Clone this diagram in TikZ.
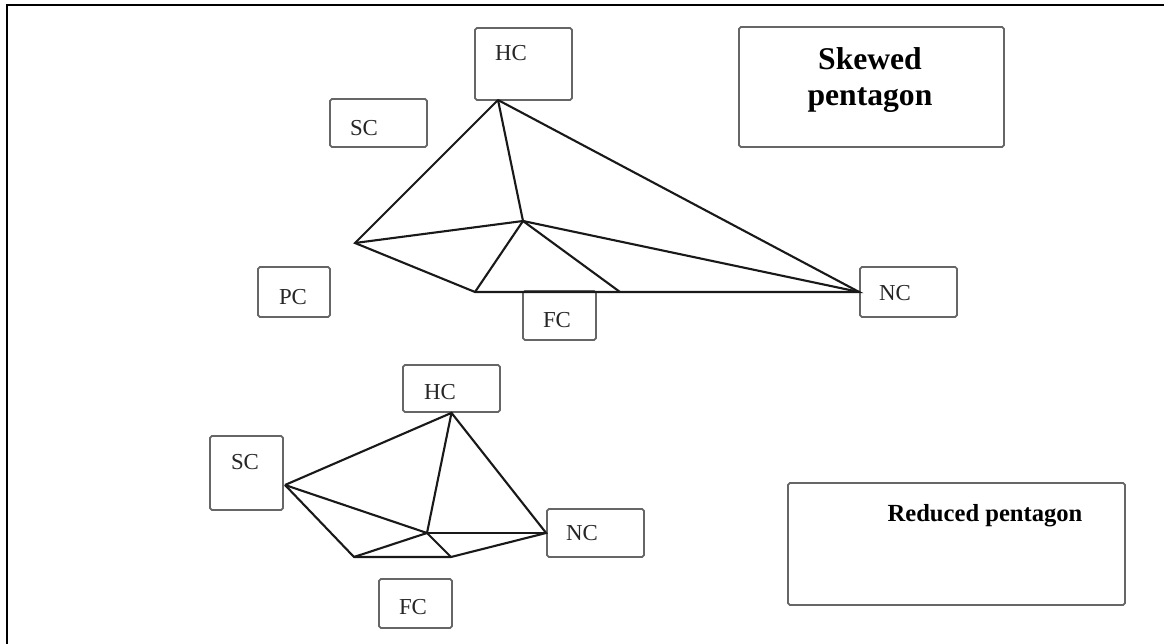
\documentclass[tikz,border=0pt]{standalone}
\usepackage{fontspec}
\setmainfont{Liberation Serif}
\usetikzlibrary{positioning}
\tikzset{
  box/.style={draw=black!60,line width=1pt,rounded corners=1pt,inner sep=0pt},
  lbl/.style={font=\fontsize{13}{15}\selectfont,text=black!85,inner sep=0pt},
  ttl/.style={font=\bfseries\fontsize{14}{17.5}\selectfont,align=center,inner sep=0pt},
  ln/.style={line width=1.2pt,black!90}
}
\begin{document}
\begin{tikzpicture}[x=0.02cm,y=-0.02cm]
\useasboundingbox (0,0) rectangle (1164,644);
\draw[line width=1.6pt] (7,660) -- (7,5) -- (1175,5);
% skewed pentagon
\node[box,minimum width=1.94cm,minimum height=1.44cm] (hc) at (523.5,64) {};
\node[box,minimum width=1.94cm,minimum height=0.96cm] (sc) at (378.5,123) {};
\node[box,minimum width=1.44cm,minimum height=1.0cm] (pc) at (294,292) {};
\node[box,minimum width=1.46cm,minimum height=0.98cm] (fc) at (559.5,315.5) {};
\node[box,minimum width=1.94cm,minimum height=1.0cm] (nc) at (908.5,292) {};
\node[box,minimum width=5.3cm,minimum height=2.4cm] (skew) at (871.5,87) {};
\node[lbl] (hct) at (511,53) {HC};
\node[lbl] (sct) at (364,128) {SC};
\node[lbl] (pct) at (293,297) {PC};
\node[lbl] (fct) at (557,320) {FC};
\node[lbl] (nct) at (895,293) {NC};
\node[ttl,font=\bfseries\fontsize{18}{20}\selectfont] (skewt) at (870,80) {Skewed\\pentagon};
\coordinate (hcb) at (498,100);
\coordinate (pa) at (355,243);
\coordinate (pm) at (523,221);
\coordinate (pb) at (475,292);
\coordinate (pcc) at (620,292);
\draw[ln] (hcb) -- (pa) -- (pb) -- (nc.west) -- (hcb);
\draw[ln] (hcb) -- (pm);
\draw[ln] (pa) -- (pm) -- (nc.west);
\draw[ln] (pb) -- (pm) -- (pcc);
% reduced pentagon
\node[box,minimum width=1.94cm,minimum height=0.94cm] (hc2) at (451.5,388.5) {};
\node[box,minimum width=1.46cm,minimum height=1.48cm] (sc2) at (246.5,473) {};
\node[box,minimum width=1.94cm,minimum height=0.96cm] (nc2) at (595.5,533) {};
\node[box,minimum width=1.46cm,minimum height=0.98cm] (fc2) at (415.5,603.5) {};
\node[box,minimum width=6.74cm,minimum height=2.44cm] (red) at (956.5,544) {};
\node[lbl] (hc2t) at (440,392) {HC};
\node[lbl] (sc2t) at (245,462) {SC};
\node[lbl] (nc2t) at (582,533) {NC};
\node[lbl] (fc2t) at (413,607) {FC};
\node[ttl] (redt) at (985,516) {Reduced pentagon};
\coordinate (scr) at (285,485);
\coordinate (rm) at (427,533);
\coordinate (rb) at (354,557);
\coordinate (rc) at (451,557);
\draw[ln] (scr) -- (hc2.south) -- (nc2.west) -- (rc) -- (rb) -- (scr);
\draw[ln] (scr) -- (rm) -- (hc2.south);
\draw[ln] (rb) -- (rm) -- (rc);
\draw[ln] (rm) -- (nc2.west);
\end{tikzpicture}
\end{document}
